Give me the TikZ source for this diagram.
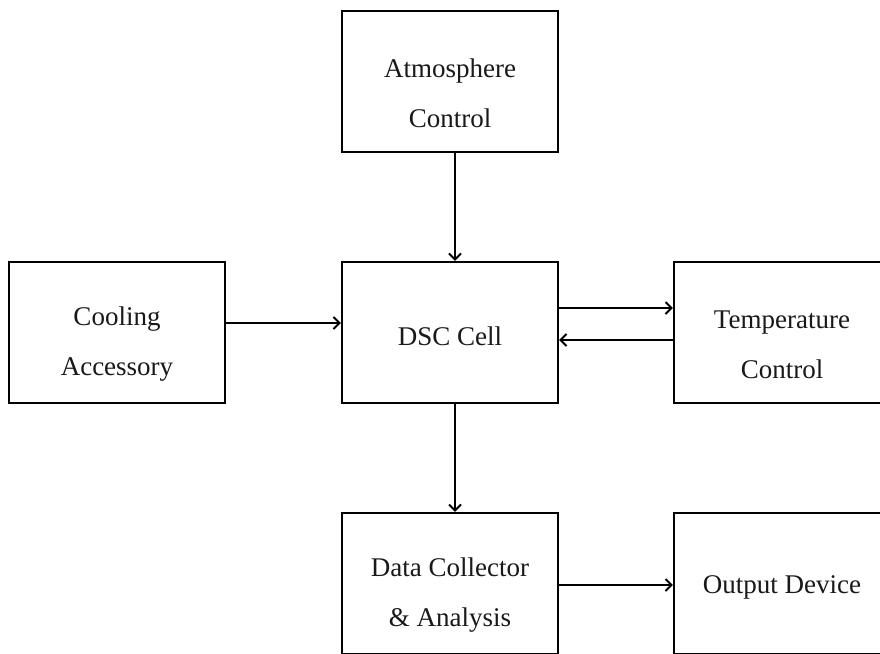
\documentclass[tikz,border=0pt]{standalone}
\usepackage{fontspec}
\setmainfont{Liberation Serif}
\usetikzlibrary{arrows.meta}
\begin{document}
\begin{tikzpicture}[x=1pt,y=-1pt,
  box/.style={draw=black,line width=2.2pt,minimum width=216pt,minimum height=141pt,inner sep=0pt},
  txt/.style={align=center,font=\fontsize{27}{50}\selectfont,text=black!90,inner sep=0pt},
  arr/.style={line width=2.2pt,-{Straight Barb[length=6pt,width=12pt,line width=2pt]}}]
\useasboundingbox (0,0) rectangle (880,653);
\clip (0,0) rectangle (880,653);
\fill[white] (0,0) rectangle (880,653);
\node[box] (atm) at (450,81.5) {};
\node[box] (cool) at (117,332.5) {};
\node[box] (dsc) at (450,332.5) {};
\node[box] (temp) at (782,332.5) {};
\node[box] (data) at (450,583.5) {};
\node[box] (out) at (782,583.5) {};
\node[txt] (atmT) at ([yshift=-12pt]atm.center) {Atmosphere\\Control};
\node[txt] (coolT) at ([yshift=-12pt]cool.center) {Cooling\\Accessory};
\node[txt] (dscT) at ([yshift=-4pt]dsc.center) {DSC Cell};
\node[txt] (tempT) at ([yshift=-12pt]temp.center) {Temperature\\Control};
\node[txt] (dataT) at ([yshift=-12pt]data.center) {Data Collector\\\& Analysis};
\node[txt] (outT) at ([yshift=-4pt]out.center) {Output Device};
\draw[arr] ([xshift=5pt]atm.south) -- ([xshift=5pt]dsc.north);
\draw[arr] ([xshift=5pt]dsc.south) -- ([xshift=5pt]data.north);
\draw[arr] ([yshift=9.5pt]cool.east) -- ([yshift=9.5pt]dsc.west);
\draw[arr] ([yshift=24.5pt]dsc.east) -- ([yshift=24.5pt]temp.west);
\draw[arr] ([yshift=-7.5pt]temp.west) -- ([yshift=-7.5pt]dsc.east);
\draw[arr] ([yshift=-1.5pt]data.east) -- ([yshift=-1.5pt]out.west);
\end{tikzpicture}
\end{document}
